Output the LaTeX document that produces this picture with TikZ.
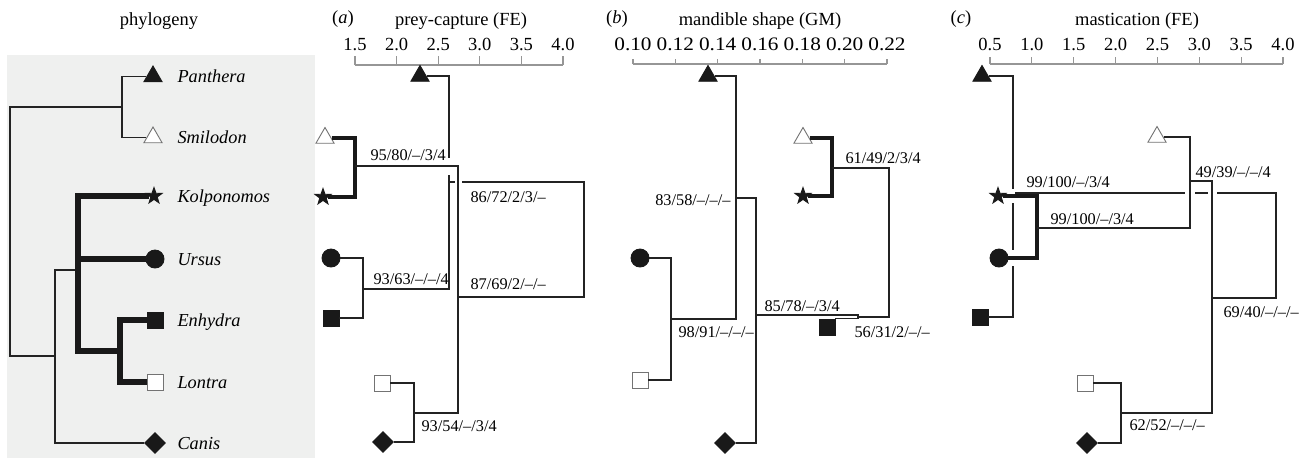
\documentclass[tikz,border=0pt]{standalone}
\usepackage{fontspec}
\setmainfont{Liberation Serif}
\usetikzlibrary{shapes.geometric,calc}

\definecolor{phybg}{RGB}{239,240,239}
\definecolor{ink}{RGB}{35,35,35}
\definecolor{axisgrey}{RGB}{150,150,150}

\tikzset{
  branch/.style={draw=ink,line width=1.4pt},
  heavy/.style={draw=black!90,line width=4.8pt},
  crossgap/.style={draw=white,line width=3.5pt},
  axisline/.style={draw=axisgrey,line width=1.2pt},
  tipmark/.style={inner sep=0pt,line width=0.9pt},
  fulltri/.style={tipmark,regular polygon,regular polygon sides=3,minimum size=21pt,fill=black!90,draw=black!90},
  opentri/.style={tipmark,regular polygon,regular polygon sides=3,minimum size=21pt,fill=white,draw=black!55},
  fullstar/.style={tipmark,star,star points=5,star point ratio=2.5,minimum size=17pt,fill=black!90,draw=black!90},
  fulldot/.style={tipmark,circle,minimum size=18pt,fill=black!90,draw=black!90},
  fullsq/.style={tipmark,rectangle,minimum size=16pt,fill=black!90,draw=black!90},
  opensq/.style={tipmark,rectangle,minimum size=16pt,fill=white,draw=black!55},
  fulldia/.style={tipmark,diamond,minimum size=21pt,fill=black!90,draw=black!90},
  taxon/.style={anchor=base west,font=\fontsize{18.3}{20}\selectfont\itshape},
  support/.style={anchor=base west,font=\fontsize{16.3}{18}\selectfont},
  ticklab/.style={anchor=base,font=\fontsize{18.5}{20}\selectfont},
  ttl/.style={anchor=base,font=\fontsize{18.5}{20}\selectfont},
}

\begin{document}
\begin{tikzpicture}[x=1pt,y=-1pt]
  \useasboundingbox (0,0) rectangle (1305,459);

  % phylogeny
  \fill[phybg] (7,55) rectangle (315,458);
  \node[ttl] (tphy) at (159,25) {phylogeny};
  \node[fulltri] (pan) at (153,76.5) {};
  \node[opentri] (smi) at (153,137.5) {};
  \node[fullstar] (kol) at (154,196) {};
  \node[fulldot] (urs) at (155,259) {};
  \node[fullsq] (enh) at (155,320) {};
  \node[opensq] (lon) at (155,382) {};
  \node[fulldia] (can) at (155,443) {};
  \coordinate (labx) at (174,0);
  \foreach \n/\t in {pan/Panthera,smi/Smilodon,kol/Kolponomos,urs/Ursus,enh/Enhydra,lon/Lontra,can/Canis}
    \node[taxon,yshift=-6pt] (l\n) at (labx |- \n) {\t};
  \coordinate (fel) at (122,107);
  \coordinate (root) at (10,230);
  \coordinate (cnf) at (55,356);
  \coordinate (arc) at (78,270);
  \coordinate (lut) at (120,351);
  \draw[branch] (pan) -| (fel) |- (smi);
  \draw[branch] (fel) -| (root) |- (cnf);
  \draw[branch] (arc) -| (cnf) |- (can);
  \draw[heavy,line width=5.4pt] (kol) -| (arc) |- (lut);
  \draw[heavy,line width=5.4pt] (urs) -| (arc);
  \draw[heavy,line width=5.4pt] (enh) -| (lut) |- (lon);

  % (a) prey-capture
  \node[ttl] (tia) at (343,23) {(\textit{a})};
  \node[ttl] (tta) at (461,25) {prey-capture (FE)};
  \draw[axisline] (355,65) -- (563,65);
  \foreach \val [count=\i from 0] in {1.5,2.0,2.5,3.0,3.5,4.0}{
    \draw[axisline] (355+41.6*\i,65) -- ++(0,-9);
    \node[ticklab] (ta\i) at (355+41.6*\i,50) {\val};}
  \node[fulltri] (apan) at (420,76) {};
  \node[opentri] (asmi) at (325,138) {};
  \node[fullstar] (akol) at (323,197) {};
  \node[fulldot] (aurs) at (331,258) {};
  \node[fullsq] (aenh) at (331,318) {};
  \node[opensq] (alon) at (382,383) {};
  \node[fulldia] (acan) at (383,442) {};
  \coordinate (a0) at (458,297);
  \coordinate (a1) at (355,166);
  \coordinate (a2) at (449,182);
  \coordinate (a3) at (363,289);
  \coordinate (a4) at (414,413);
  \coordinate (a5) at (584,240);
  \draw[heavy] (asmi) -| (a1) |- (akol);
  \draw[branch] (aurs) -| (a3) |- (aenh);
  \draw[branch] (alon) -| (a4) |- (acan);
  \draw[branch] (apan) -| (a2) |- (a3);
  \draw[branch] (a2) -| (a5) |- (a0);
  \draw[crossgap] (a2 |- a1) ++(0,-8.5) -- ++(0,17);
  \draw[crossgap] (a0 |- a2) ++(-3.5,0) -- ++(7,0);
  \draw[branch] (a1) -| (a0) |- (a4);
  \node[support] (sa1) at (367,160) {95/80/--/3/4};
  \node[support] (sa2) at (467,202) {86/72/2/3/--};
  \node[support] (sa3) at (370,284) {93/63/--/--/4};
  \node[support] (sa0) at (467,289) {87/69/2/--/--};
  \node[support] (sa4) at (418,431) {93/54/--/3/4};

  % (b) mandible shape
  \node[ttl] (tib) at (617,23) {(\textit{b})};
  \node[ttl] (ttb) at (760,25) {mandible shape (GM)};
  \draw[axisline] (633,64) -- (887,64);
  \foreach \val [count=\i from 0] in {0.10,0.12,0.14,0.16,0.18,0.20,0.22}{
    \draw[axisline] (633+42.33*\i,64) -- ++(0,-5);
    \node[ticklab] (tb\i) at (633+42.33*\i,50) {\scalebox{1.15}[1.03]{\val}};}
  \node[fulltri] (bpan) at (708,76) {};
  \node[opentri] (bsmi) at (803,138) {};
  \node[fullstar] (bkol) at (803,196) {};
  \node[fulldot] (burs) at (640,258) {};
  \node[opensq] (blon) at (640,380) {};
  \node[fulldia] (bcan) at (725,443) {};
  \node[fullsq] (benh) at (827,327) {};
  \coordinate (b1) at (832,168);
  \coordinate (b2) at (736,198);
  \coordinate (b3) at (671,319);
  \coordinate (b4) at (756,315);
  \coordinate (b5) at (858,317);
  \coordinate (b6) at (889,240);
  \draw[heavy] (bsmi) -| (b1) |- (bkol);
  \draw[branch] (burs) -| (b3) |- (blon);
  \draw[branch] (bpan) -| (b2) |- (b3);
  \draw[branch] (b2) -| (b4) |- (bcan);
  \draw[branch] (b4) -| (b5) |- (benh.north east);
  \draw[branch] (b5) -| (b6) |- (b1);
  \node[support,anchor=base east] (sb2) at (734,205) {83/58/--/--/--};
  \node[support] (sb1) at (842,163) {61/49/2/3/4};
  \node[support] (sb3) at (675,337) {98/91/--/--/--};
  \node[support] (sb4) at (761,311) {85/78/--/3/4};
  \node[support] (sb5) at (851,337) {56/31/2/--/--};

  % (c) mastication
  \node[ttl] (tic) at (961,23) {(\textit{c})};
  \node[ttl] (ttc) at (1137,25) {mastication (FE)};
  \draw[axisline] (990,64) -- (1283,64);
  \foreach \val [count=\i from 0] in {0.5,1.0,1.5,2.0,2.5,3.0,3.5,4.0}{
    \draw[axisline] (990+41.86*\i,64) -- ++(0,-7);
    \node[ticklab] (tc\i) at (990+41.86*\i,50) {\val};}
  \node[fulltri] (cpan) at (982,76) {};
  \node[opentri] (csmi) at (1157,137) {};
  \node[fullstar] (ckol) at (998,196) {};
  \node[fulldot] (curs) at (999,258) {};
  \node[fullsq] (cenh) at (980,317) {};
  \node[opensq] (clon) at (1085,383) {};
  \node[fulldia] (ccan) at (1087,443) {};
  \coordinate (c0) at (1212,298);
  \coordinate (c1) at (1037,228);
  \coordinate (c2) at (1013,193);
  \coordinate (c3) at (1190,181);
  \coordinate (c4) at (1121,413);
  \coordinate (c5) at (1276,245);
  \draw[branch] (cpan) -| (c2) |- (cenh);
  \draw[branch] (c2) -| (c5) |- (c0);
  \draw[crossgap] (c2 |- ckol) ++(0,-7) -- ++(0,14);
  \draw[crossgap] (c2 |- curs) ++(0,-8) -- ++(0,16);
  \draw[crossgap] (c3 |- c2) ++(-5,0) -- ++(10,0);
  \draw[crossgap] (c0 |- c2) ++(-4.5,0) -- ++(9,0);
  \draw[heavy] (ckol) -| (c1) |- (curs);
  \draw[branch] (csmi) -| (c3) |- (c1);
  \draw[branch] (clon) -| (c4) |- (ccan);
  \draw[branch] (c3) -| (c0) |- (c4);
  \node[support] (sc2) at (1023,187) {99/100/--/3/4};
  \node[support] (sc1) at (1047,224) {99/100/--/3/4};
  \node[support] (sc3) at (1192,177) {49/39/--/--/4};
  \node[support] (sc5) at (1220,317) {69/40/--/--/--};
  \node[support] (sc4) at (1126,430) {62/52/--/--/--};
\end{tikzpicture}
\end{document}
